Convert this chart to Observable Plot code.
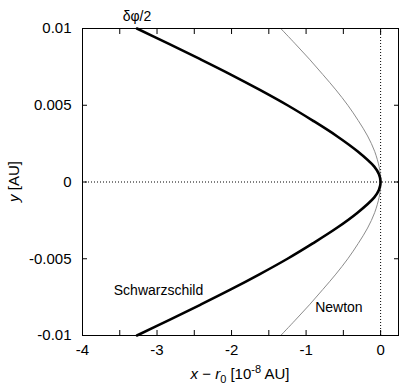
<!DOCTYPE html>
<html><head><meta charset="utf-8">
<script src="https://cdn.jsdelivr.net/npm/d3@7"></script>
<script src="https://cdn.jsdelivr.net/npm/@observablehq/plot@0.6"></script>
<style>body{margin:0;background:#fff}svg{display:block}</style>
</head><body><div id="chart"></div>
<script>
// Schwarzschild trajectory (thick black)
const schwY = [0.01, 0.009, 0.008, 0.007, 0.006, 0.005, 0.004, 0.003, 0.002, 0.001, 0.0005, 0,
  -0.0005, -0.001, -0.002, -0.003, -0.004, -0.005, -0.006, -0.007, -0.008, -0.009, -0.01];
const schwX = [-3.27, -2.84, -2.42, -2.01, -1.62, -1.25, -0.91, -0.59, -0.31, -0.085, -0.022, 0,
  -0.022, -0.085, -0.31, -0.59, -0.91, -1.25, -1.62, -2.01, -2.42, -2.84, -3.27];
// Newtonian trajectory (thin grey)
const newtY = [0.01, 0.009, 0.008, 0.007, 0.006, 0.005, 0.004, 0.003, 0.002, 0.001, 0.0005, 0,
  -0.0005, -0.001, -0.002, -0.003, -0.004, -0.005, -0.006, -0.007, -0.008, -0.009, -0.01];
const newtX = [-1.34, -1.145, -0.955, -0.775, -0.6, -0.44, -0.3, -0.175, -0.08, -0.02, -0.005, 0,
  -0.005, -0.02, -0.08, -0.175, -0.3, -0.44, -0.6, -0.775, -0.955, -1.145, -1.34];

const xTicks = [-4, -3.5, -3, -2.5, -2, -1.5, -1, -0.5, 0];
const xTickLabels = [-4, -3, -2, -1, 0];
const yTicks = [-0.01, -0.005, 0, 0.005, 0.01];
const yTickLabels = ["-0.01", "-0.005", "0", "0.005", "0.01"];
const curveNames = ["Schwarzschild", "Newton"];
const curveLabelX = [-2.98, -0.56];
const curveLabelY = [-0.00707, -0.00816];
const angleLabel = "δφ/2";

const schw = schwY.map((y, i) => ({x: schwX[i], y}));
const newt = newtY.map((y, i) => ({x: newtX[i], y}));
const labels = curveNames.map((t, i) => ({t, x: curveLabelX[i], y: curveLabelY[i]}));

const FONT = "'Liberation Sans', Arial, Helvetica, sans-serif";
const plot = Plot.plot({
  width: 399, height: 385,
  marginLeft: 82, marginRight: 1, marginTop: 28, marginBottom: 50,
  style: {fontFamily: FONT, fontSize: "15px", background: "#fff", color: "#000"},
  x: {domain: [-4, 0.24], axis: null},
  y: {domain: [-0.01, 0.01], axis: null},
  marks: [
    Plot.ruleX([0], {stroke: "#000", strokeWidth: 1, strokeDasharray: "1,2"}),
    Plot.ruleY([0], {stroke: "#000", strokeWidth: 1, strokeDasharray: "1,2"}),
    Plot.line(newt, {x: "x", y: "y", stroke: "#8c8c8c", strokeWidth: 1, curve: "catmull-rom"}),
    Plot.line(schw, {x: "x", y: "y", stroke: "#000", strokeWidth: 2.6, curve: "catmull-rom"}),
    Plot.axisX(xTicks, {anchor: "bottom", tickSize: -5, tickFormat: () => "", label: null}),
    Plot.axisX(xTicks, {anchor: "top", tickSize: -5, tickFormat: () => "", label: null}),
    Plot.axisY(yTicks, {anchor: "left", tickSize: -5, tickFormat: () => "", label: null}),
    Plot.axisY(yTicks, {anchor: "right", tickSize: -5, tickFormat: () => "", label: null}),
    Plot.axisX(xTickLabels, {anchor: "bottom", tickSize: 0, tickPadding: 9, fontSize: 15, label: null, tickFormat: d => String(d)}),
    Plot.axisY(yTicks, {anchor: "left", tickSize: 0, tickPadding: 11, fontSize: 15, label: null, tickFormat: (d, i) => yTickLabels[i]}),
    Plot.frame({stroke: "#000", strokeWidth: 1}),
    Plot.text(labels, {x: "x", y: "y", text: "t", fontSize: 14, fill: "#000"}),
    Plot.text([angleLabel], {x: schwX[0], y: schwY[0], text: d => d, dy: -12, fontSize: 14, fill: "#000", clip: false})
  ]
});
document.getElementById("chart").appendChild(plot);

const svg = d3.select(plot);
// x axis label
const xl = svg.append("text").attr("x", 240).attr("y", 379).attr("text-anchor", "middle")
  .attr("font-size", 15).attr("font-family", FONT).attr("fill", "#000");
xl.append("tspan").attr("font-style", "italic").text("x");
xl.append("tspan").text(" \u2212 ");
xl.append("tspan").attr("font-style", "italic").text("r");
xl.append("tspan").attr("font-size", 11).attr("dy", 4).text("0");
xl.append("tspan").attr("dy", -4).text(" [10");
xl.append("tspan").attr("font-size", 11).attr("dy", -6).text("-8");
xl.append("tspan").attr("dy", 6).text(" AU]");
// y axis label
const yl = svg.append("text").attr("transform", "translate(19,181.5) rotate(-90)").attr("text-anchor", "middle")
  .attr("font-size", 15).attr("font-family", FONT).attr("fill", "#000");
yl.append("tspan").attr("font-style", "italic").text("y");
yl.append("tspan").text(" [AU]");
</script></body></html>
